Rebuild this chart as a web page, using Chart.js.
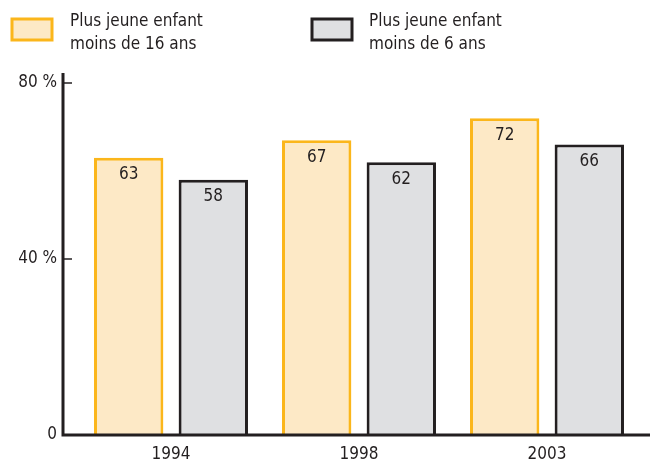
<!DOCTYPE html>
<html>
<head>
<meta charset="utf-8">
<script src="https://cdn.jsdelivr.net/npm/chart.js@4/dist/chart.umd.min.js"></script>
<style>
  html, body { margin: 0; padding: 0; background: #fff; }
  #wrap { width: 650px; height: 462px; position: relative; }
</style>
</head>
<body>
<div id="wrap"><canvas id="chart"></canvas></div>
<script>
// Data
const years = ["1994", "1998", "2003"];
const under16 = [63, 67, 72];
const under6 = [58, 62, 66];
const legendLines = [
  ["Plus jeune enfant", "moins de 16 ans"],
  ["Plus jeune enfant", "moins de 6 ans"]
];
const yTicks = [0, 40, 80];

const FONT = "'Liberation Sans Narrow', 'DejaVu Sans Condensed', 'Roboto Condensed', sans-serif";
const INK = "#231f20";

// axis lines, inward ticks, legend and bar values
const decor = {
  id: "decor",
  afterDatasetsDraw(chart) {
    const ctx = chart.ctx;
    const y = chart.scales.y;
    const axisX = 63;
    ctx.save();
    ctx.strokeStyle = INK;
    ctx.lineWidth = 3;
    ctx.beginPath();
    ctx.moveTo(axisX, y.getPixelForValue(80) - 10);
    ctx.lineTo(axisX, y.getPixelForValue(0) + 1.5);
    ctx.moveTo(axisX, y.getPixelForValue(0));
    ctx.lineTo(chart.width, y.getPixelForValue(0));
    ctx.stroke();
    ctx.lineWidth = 1.5;
    yTicks.filter(v => v > 0).forEach(v => {
      const py = y.getPixelForValue(v);
      ctx.beginPath();
      ctx.moveTo(axisX, py);
      ctx.lineTo(axisX + 9, py);
      ctx.stroke();
    });

    // values inside bars
    ctx.fillStyle = INK;
    ctx.font = "17px " + FONT;
    ctx.textAlign = "center";
    ctx.textBaseline = "middle";
    chart.data.datasets.forEach((ds, i) => {
      chart.getDatasetMeta(i).data.forEach((bar, j) => {
        ctx.fillText(String(ds.data[j]), bar.x, bar.y + 17);
      });
    });

    // legend
    const boxes = [{ x: 12, tx: 70 }, { x: 312, tx: 369 }];
    chart.data.datasets.forEach((ds, i) => {
      const b = boxes[i];
      ctx.fillStyle = ds.backgroundColor;
      ctx.strokeStyle = ds.borderColor;
      ctx.lineWidth = 3;
      ctx.fillRect(b.x, 19, 40, 21);
      ctx.strokeRect(b.x, 19, 40, 21);
      ctx.fillStyle = INK;
      ctx.font = "17px " + FONT;
      ctx.textAlign = "left";
      legendLines[i].forEach((line, k) => {
        ctx.fillText(line, b.tx, 22 + k * 23);
      });
    });
    ctx.restore();
  }
};

new Chart(document.getElementById("chart"), {
  type: "bar",
  data: {
    labels: years,
    datasets: [
      {
        label: legendLines[0].join(" "),
        data: under16,
        backgroundColor: "#fde9c6",
        borderColor: "#fbb61b",
        borderWidth: 3,
        borderSkipped: "bottom"
      },
      {
        label: legendLines[1].join(" "),
        data: under6,
        backgroundColor: "#dfe0e2",
        borderColor: INK,
        borderWidth: 3,
        borderSkipped: "bottom"
      }
    ]
  },
  options: {
    responsive: true,
    maintainAspectRatio: false,
    animation: false,
    layout: { padding: { top: 83, right: 9, bottom: 0, left: 0 } },
    categoryPercentage: 0.9,
    barPercentage: 0.82,
    plugins: {
      legend: { display: false },
      tooltip: { enabled: false }
    },
    scales: {
      x: {
        grid: { display: false, drawTicks: false },
        border: { display: false },
        ticks: { color: INK, font: { family: FONT, size: 17 }, padding: 9 },
        afterFit(s) { s.height = 27; s.paddingLeft = 0; s.paddingRight = 0; }
      },
      y: {
        min: 0,
        max: 80,
        afterBuildTicks(s) { s.ticks = yTicks.map(v => ({ value: v })); },
        grid: { display: false, drawTicks: false },
        border: { display: false },
        ticks: {
          color: INK,
          font: { family: FONT, size: 17 },
          padding: 20,
          callback: v => v === 0 ? "0" : v + " %"
        },
        afterFit(s) { s.width = 77; s.paddingTop = 0; s.paddingBottom = 0; }
      }
    }
  },
  plugins: [decor]
});
</script>
</body>
</html>
